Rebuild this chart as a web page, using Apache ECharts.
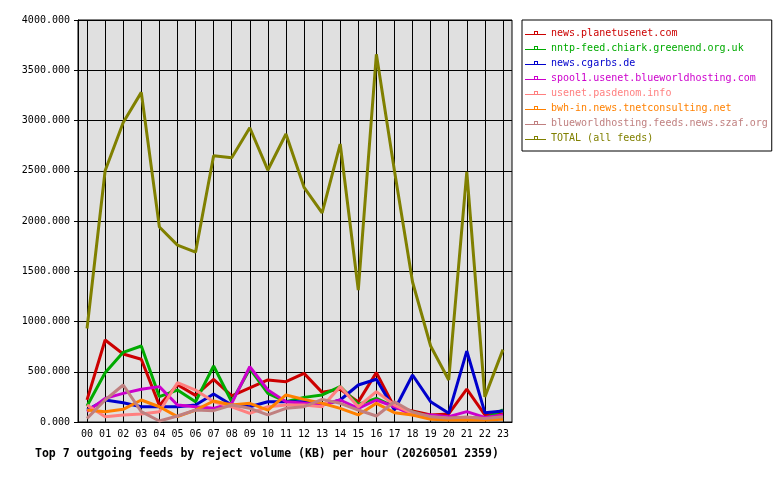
<!DOCTYPE html>
<html>
<head>
<meta charset="utf-8">
<script src="https://cdn.jsdelivr.net/npm/echarts@6.0.0/dist/echarts.min.js"></script>
<style>
  html, body { margin: 0; padding: 0; background: #fff; }
  #chart { width: 780px; height: 480px; }
</style>
</head>
<body>
<div id="chart"></div>
<script>
const hours = ['00', '01', '02', '03', '04', '05', '06', '07', '08', '09', '10', '11',
  '12', '13', '14', '15', '16', '17', '18', '19', '20', '21', '22', '23'];

const feedNames = [
  'news.planetusenet.com',
  'nntp-feed.chiark.greenend.org.uk',
  'news.cgarbs.de',
  'spool1.usenet.blueworldhosting.com',
  'usenet.pasdenom.info',
  'bwh-in.news.tnetconsulting.net',
  'blueworldhosting.feeds.news.szaf.org',
  'TOTAL (all feeds)'
];
const feedColors = ['#cc0000', '#00aa00', '#0000cc', '#cc00cc', '#ff8080', '#ff8000', '#c08080', '#808000'];

// KB per hour
const planetusenet = [220, 816, 677, 624, 165, 370, 265, 425, 260, 340, 418, 401,
  484, 295, 325, 200, 491, 145, 109, 70, 80, 328, 70, 80];
const chiark = [160, 490, 693, 756, 252, 318, 202, 557, 202, 530, 285, 202,
  245, 269, 352, 176, 235, 150, 100, 50, 45, 45, 35, 120];
const cgarbs = [119, 219, 192, 152, 152, 152, 169, 279, 169, 152, 202, 202,
  202, 169, 219, 368, 425, 119, 468, 202, 86, 706, 93, 109];
const spool1 = [103, 235, 285, 325, 352, 169, 152, 136, 186, 550, 318, 202,
  186, 169, 219, 136, 219, 152, 70, 70, 53, 103, 46, 70];
const pasdenom = [169, 53, 70, 80, 103, 391, 318, 202, 152, 86, 152, 169,
  169, 152, 352, 152, 302, 169, 86, 53, 36, 36, 30, 46];
const tnetconsulting = [119, 103, 126, 219, 152, 53, 119, 209, 169, 186, 119, 269,
  225, 186, 136, 70, 186, 93, 70, 27, 20, 20, 20, 27];
const szaf = [36, 219, 368, 103, 10, 60, 119, 113, 169, 136, 70, 136,
  152, 225, 186, 119, 60, 202, 100, 53, 40, 50, 36, 53];
const total = [930, 2500, 2980, 3280, 1940, 1760, 1690, 2650, 2630, 2928, 2507, 2866,
  2335, 2080, 2766, 1313, 3659, 2500, 1393, 756, 418, 2490, 250, 720];

const yTicks = [0, 500, 1000, 1500, 2000, 2500, 3000, 3500, 4000];

const seriesData = [planetusenet, chiark, cgarbs, spool1, pasdenom, tnetconsulting, szaf, total];

const mono = 'DejaVu Sans Mono';
const chart = echarts.init(document.getElementById('chart'));

const option = {
  animation: false,
  backgroundColor: '#fff',
  title: {
    text: 'Top 7 outgoing feeds by reject volume (KB) per hour (20260501 2359)',
    left: 30,
    top: 443,
    textStyle: { fontFamily: mono, fontSize: 11.5, fontWeight: 'bold', color: '#000' }
  },
  legend: {
    orient: 'vertical',
    left: 522,
    top: 20,
    padding: [8, 4, 8, 3],
    itemWidth: 21,
    itemHeight: 10,
    itemGap: 5,
    backgroundColor: '#fff',
    borderColor: '#000',
    borderWidth: 1,
    borderRadius: 0,
    // thin line with a small hollow square sitting on it
    icon: 'path://M0,5 L9,5 L9,2 L13,2 L13,5 L21,5 L21,6 L0,6 Z M10,3 L10,5 L12,5 L12,3 Z',
    data: feedNames.map((n, i) => ({ name: n, textStyle: { color: feedColors[i] } })),
    textStyle: { fontFamily: mono, fontSize: 10 }
  },
  grid: {
    left: 78,
    top: 20,
    width: 434,
    height: 402,
    show: true,
    backgroundColor: '#e0e0e0',
    borderColor: '#000',
    borderWidth: 1
  },
  xAxis: {
    type: 'category',
    data: hours,
    boundaryGap: true,
    axisLine: { lineStyle: { color: '#000', width: 1 } },
    axisTick: { alignWithLabel: true, length: 4, lineStyle: { color: '#000' } },
    axisLabel: { color: '#000', fontFamily: mono, fontSize: 10, margin: 7, interval: 0 },
    splitLine: { show: true, alignWithLabel: true, lineStyle: { color: '#000', width: 1 } }
  },
  yAxis: {
    type: 'value',
    min: yTicks[0],
    max: yTicks[yTicks.length - 1],
    interval: 500,
    axisLine: { show: true, lineStyle: { color: '#000', width: 1 } },
    axisTick: { show: true, length: 4, lineStyle: { color: '#000' } },
    axisLabel: {
      color: '#000',
      fontFamily: mono,
      fontSize: 10,
      margin: 8,
      formatter: v => v.toFixed(3)
    },
    splitLine: { show: true, lineStyle: { color: '#000', width: 1 } }
  },
  series: feedNames.map((n, i) => ({
    name: n,
    type: 'line',
    data: seriesData[i],
    showSymbol: false,
    symbol: 'none',
    color: feedColors[i],
    lineStyle: { width: 3, color: feedColors[i] },
    emphasis: { disabled: true }
  }))
};

chart.setOption(option);
</script>
</body>
</html>
